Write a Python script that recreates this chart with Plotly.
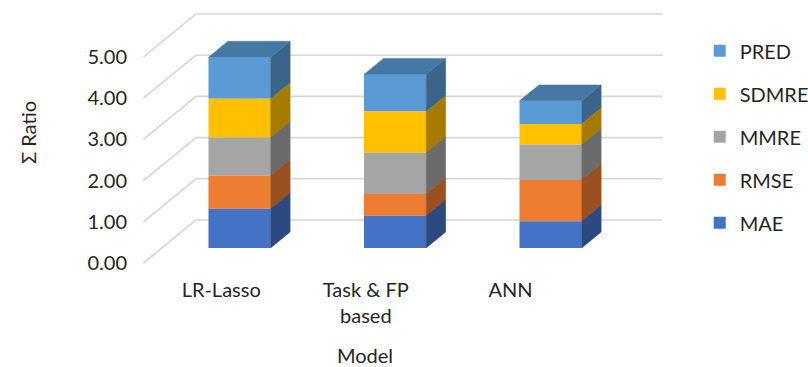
import plotly.graph_objects as go

# Stacked error metrics per model
models = ["LR-Lasso", "Task & FP<br>based", "ANN"]
series = ["MAE", "RMSE", "MMRE", "SDMRE", "PRED"]
mae = [0.95, 0.78, 0.65]
rmse = [0.81, 0.53, 1.00]
mmre = [0.92, 1.00, 0.86]
sdmre = [0.94, 1.00, 0.50]
pred = [1.01, 0.90, 0.56]
y_ticks = [0, 1, 2, 3, 4, 5]

values = [mae, rmse, mmre, sdmre, pred]
front_colors = ["#4472C4", "#ED7D31", "#A5A5A5", "#FFC000", "#5B9BD5"]


def shade(hex_color, f):
    r, g, b = (int(hex_color[i:i + 2], 16) for i in (1, 3, 5))
    return "#%02x%02x%02x" % (int(r * f), int(g * f), int(b * f))


# oblique projection: a step of depth d moves a point by (d*DX, d*DY)
DX, DY = 0.338, 1.044
TF, TB = 0.35, 0.72          # front / back depth of the bars
BW = 0.40                    # bar width in category units
FLOOR_X0, FLOOR_X1 = -0.5, 2.5
LABEL_SPACING = 0.93         # category labels sit on the projected front edge

n = len(models)

# stack bottoms for each series
bottoms = []
running = [0.0] * n
for vals in values:
    bottoms.append(list(running))
    running = [running[i] + vals[i] for i in range(n)]

fig = go.Figure()

# add top series first so the legend lists PRED ... MAE
for k in reversed(range(len(series))):
    name = series[k]
    vals = values[k]
    bases = [bottoms[k][i] + TF * DY for i in range(n)]
    xs = [i + TF * DX for i in range(n)]
    fig.add_trace(go.Bar(
        x=xs, y=vals, base=bases, width=BW, name=name,
        marker=dict(color=front_colors[k], line=dict(width=0)),
        legendgroup=name, hoverinfo="skip",
    ))
    sx, sy = [], []
    tx, ty = [], []
    dd = TB - TF
    for i in range(n):
        xr = xs[i] + BW / 2
        xl = xs[i] - BW / 2
        y0 = bases[i]
        y1 = bases[i] + vals[i]
        sx += [xr, xr, xr + dd * DX, xr + dd * DX, xr, None]
        sy += [y0, y1, y1 + dd * DY, y0 + dd * DY, y0, None]
        if k == len(series) - 1:
            tx += [xl, xr, xr + dd * DX, xl + dd * DX, xl, None]
            ty += [y1, y1, y1 + dd * DY, y1 + dd * DY, y1, None]
    fig.add_trace(go.Scatter(
        x=sx, y=sy, mode="lines", fill="toself",
        fillcolor=shade(front_colors[k], 0.65),
        line=dict(color=shade(front_colors[k], 0.65), width=0.5),
        showlegend=False, legendgroup=name, hoverinfo="skip",
    ))
    if tx:
        fig.add_trace(go.Scatter(
            x=tx, y=ty, mode="lines", fill="toself",
            fillcolor=shade(front_colors[k], 0.78),
            line=dict(color=shade(front_colors[k], 0.78), width=0.5),
            showlegend=False, legendgroup=name, hoverinfo="skip",
        ))

# side wall diagonals and back wall gridlines
grid_color = "#d6d6d6"
for v in y_ticks:
    fig.add_shape(type="line", layer="below", xref="x", yref="y",
                  x0=FLOOR_X0, y0=v, x1=FLOOR_X0 + DX, y1=v + DY,
                  line=dict(color=grid_color, width=1.6))
    fig.add_shape(type="line", layer="below", xref="x", yref="y",
                  x0=FLOOR_X0 + DX, y0=v + DY, x1=FLOOR_X1 + DX, y1=v + DY,
                  line=dict(color=grid_color, width=1.6))

font = dict(family="Lato, 'Liberation Sans', sans-serif", size=20, color="#262626")

fig.update_layout(
    width=808, height=367,
    margin=dict(l=140, r=108, t=5, b=92),
    paper_bgcolor="white", plot_bgcolor="white",
    barmode="overlay",
    font=font,
    showlegend=True,
    legend=dict(
        xref="container", yref="container", x=0.866, y=0.915,
        xanchor="left", yanchor="top", maxheight=340,
        traceorder="grouped", tracegroupgap=14,
        font=font, itemwidth=30, bgcolor="rgba(0,0,0,0)",
    ),
    xaxis=dict(
        range=[-0.522, 3.045], tickmode="array",
        tickvals=[i * LABEL_SPACING for i in range(n)], ticktext=models,
        showgrid=False, zeroline=False, showline=False, ticks="",
        ticklabelstandoff=1,
    ),
    yaxis=dict(
        range=[-0.291, 6.262], tickmode="array",
        tickvals=y_ticks, ticktext=["%.2f" % v for v in y_ticks],
        showgrid=False, zeroline=False, showline=False, ticks="",
        ticklabelstandoff=12,
    ),
    annotations=[
        dict(text="Model", xref="paper", yref="paper",
             x=(367 - 140) / 560, y=-(355 - 275) / 270,
             xanchor="center", yanchor="middle", showarrow=False, font=font),
        dict(text="Σ Ratio", xref="paper", yref="paper",
             x=-(140 - 27) / 560, y=(275 - 133) / 270, textangle=-90,
             xanchor="center", yanchor="middle", showarrow=False, font=font),
    ],
)

fig.write_html("out.html")
